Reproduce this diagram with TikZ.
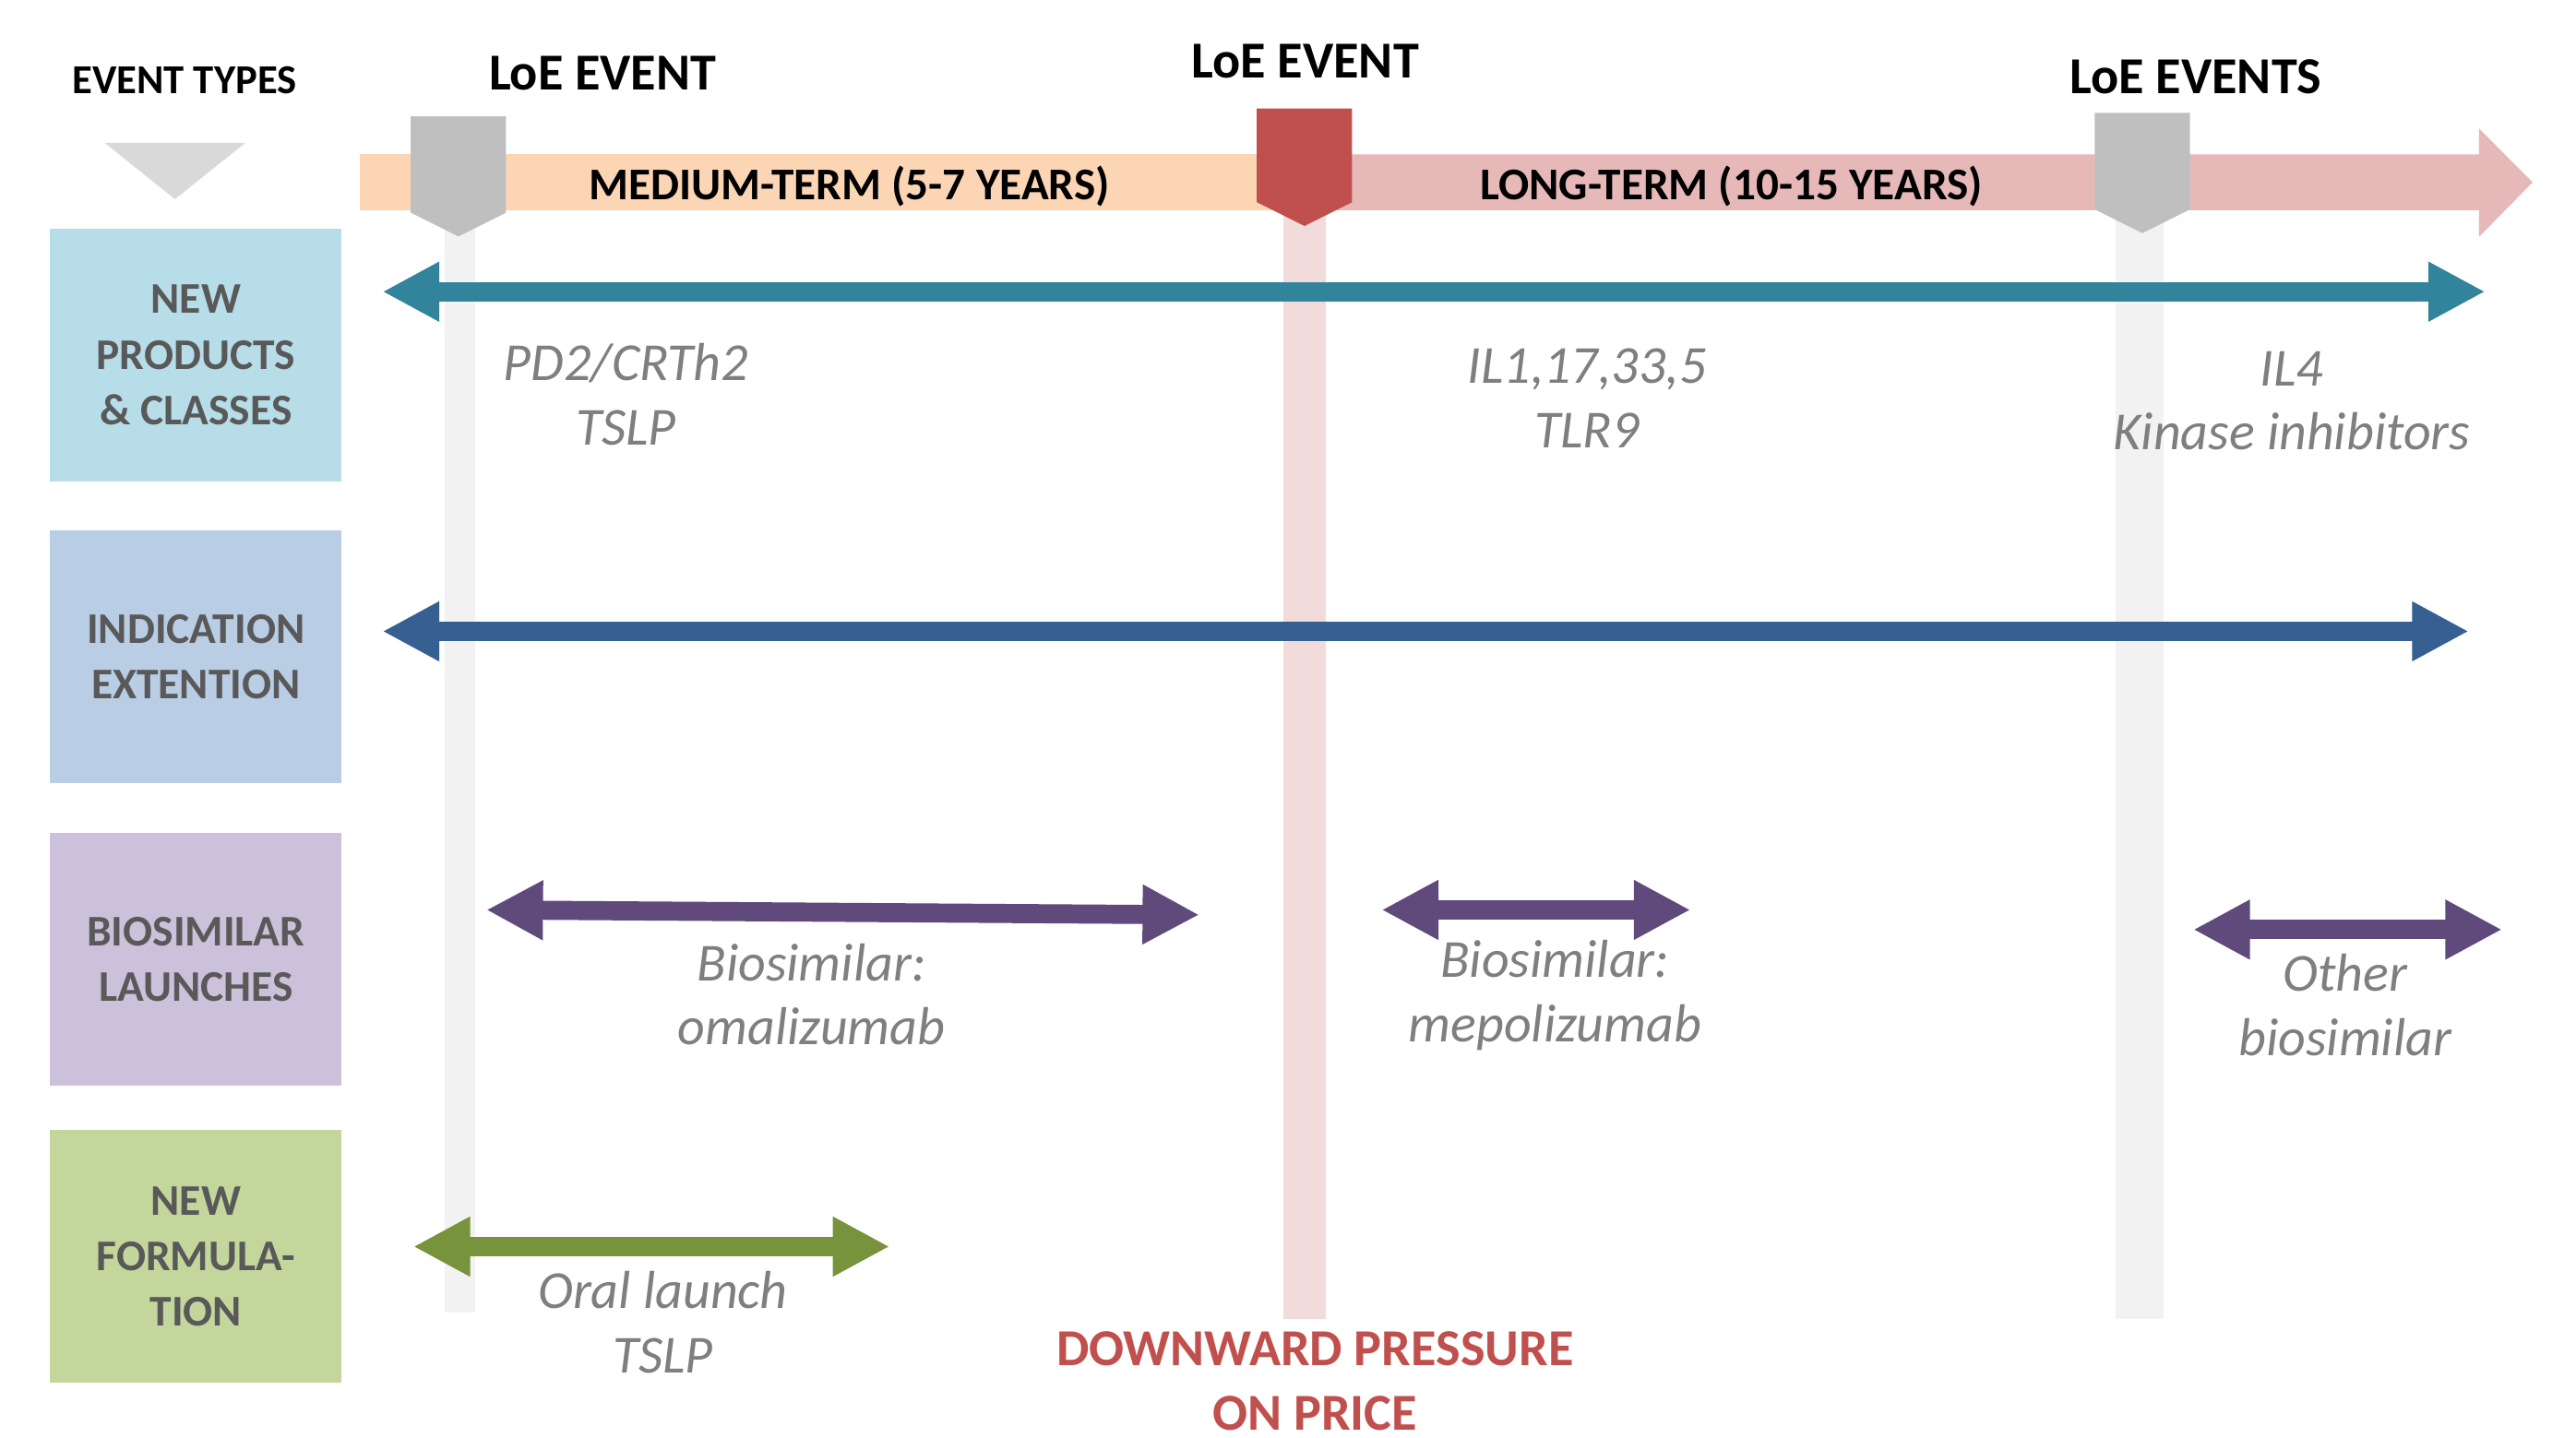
\documentclass[tikz,border=0pt]{standalone}
\usepackage{fontspec}
\setmainfont{Carlito}
\usetikzlibrary{positioning}
\usetikzlibrary{arrows.meta}

\definecolor{bargray}{HTML}{F2F2F2}
\definecolor{barpink}{HTML}{F2DCDB}
\definecolor{bandorange}{HTML}{FCD5B5}
\definecolor{bandpink}{HTML}{E6B9B8}
\definecolor{markgray}{HTML}{BFBFBF}
\definecolor{markred}{HTML}{C0504D}
\definecolor{trigray}{HTML}{D9D9D9}
\definecolor{boxaqua}{HTML}{B7DDE8}
\definecolor{boxblue}{HTML}{B9CDE5}
\definecolor{boxpurple}{HTML}{CCC1DA}
\definecolor{boxgreen}{HTML}{C3D69B}
\definecolor{boxtext}{HTML}{595959}
\definecolor{lblgray}{HTML}{7F7F7F}
\definecolor{spanteal}{HTML}{31849B}
\definecolor{spanblue}{HTML}{366092}
\definecolor{spanpurple}{HTML}{604A7B}
\definecolor{spangreen}{HTML}{77933C}

\tikzset{
  typebox/.style={minimum width=3.157cm, minimum height=2.735cm, inner sep=0pt,
    outer sep=0pt, align=center, text=boxtext,
    font=\bfseries\fontsize{13.5}{17.2}\selectfont},
  lbl/.style={align=center, text=lblgray, font=\itshape\fontsize{16.5}{19.8}\selectfont},
  loe/.style={anchor=base, inner sep=0pt, font=\bfseries\fontsize{16}{19}\selectfont},
  term/.style={anchor=base, inner sep=0pt, font=\bfseries\fontsize{14}{17}\selectfont},
  span/.style={line width=0.207cm,
    {Triangle[length=0.615cm,width=0.605cm]}-{Triangle[length=0.615cm,width=0.605cm]}}
}

% LoE marker: x centre, top, tip, colour
\newcommand{\loemarker}[4]{%
  \fill[#4] (#1-29,#2) -- (#1+29,#2) -- (#1+29,#3-14.5) -- (#1,#3)
    -- (#1-29,#3-14.5) -- cycle;}

\begin{document}
\begin{tikzpicture}[x=0.017806cm, y=-0.017806cm]
  \useasboundingbox (0,0) rectangle (1568,875);

  % guide bars
  \fill[bargray] (270.5,130) rectangle (289.5,799);
  \fill[barpink] (781,130) rectangle (807,803);
  \fill[bargray] (1288,130) rectangle (1317,803);

  % timeline
  \fill[bandorange] (219,94) rectangle (794,128);
  \fill[bandpink] (794,94) -- (1509,94) -- (1509,78.3) -- (1541.6,111)
    -- (1509,144.2) -- (1509,128) -- (794,128) -- cycle;

  % LoE markers
  \loemarker{279}{70.8}{144}{markgray}
  \loemarker{794}{66}{137.6}{markred}
  \loemarker{1304}{68.7}{142}{markgray}
  \fill[trigray] (63.8,87) -- (149.3,87) -- (106.5,121.3) -- cycle;

  % titles
  \node[loe, font=\bfseries\fontsize{12.7}{15}\selectfont] (types) at (112.3,57) {EVENT TYPES};
  \node[loe] (loe1) at (366.8,54.9) {LoE EVENT};
  \node[loe] (loe2) at (794.5,47.7) {LoE EVENT};
  \node[loe] (loe3) at (1336.5,57) {LoE EVENTS};
  \node[term] (mid) at (517,121.7) {MEDIUM-TERM (5-7 YEARS)};
  \node[term] (long) at (1053.8,121.7) {LONG-TERM (10-15 YEARS)};

  % event types
  \node[typebox, fill=boxaqua] (prod) at (119.25,216.25) {NEW\\PRODUCTS\\\& CLASSES};
  \node[typebox, fill=boxblue, below=0.534cm of prod] (ind) {INDICATION\\EXTENTION};
  \node[typebox, fill=boxpurple, below=0.545cm of ind] (bio) {BIOSIMILAR\\LAUNCHES};
  \node[typebox, fill=boxgreen, below=0.488cm of bio] (form) {NEW\\FORMULA-\\TION};

  % spans
  \coordinate (prodL) at (232.8,177.6);
  \coordinate (prodR) at (1512.7,177.6);
  \coordinate (indL) at (232.8,384.4);
  \coordinate (indR) at (1502.7,384.4);
  \coordinate (omaL) at (296,554);
  \coordinate (omaR) at (730,557);
  \coordinate (mepL) at (841,554);
  \coordinate (mepR) at (1029,554);
  \coordinate (othL) at (1335,566);
  \coordinate (othR) at (1523,566);
  \coordinate (oralL) at (251.6,759);
  \coordinate (oralR) at (541.5,759);
  \draw[span, spanteal] (prodL) -- (prodR);
  \draw[span, spanblue] (indL) -- (indR);
  \draw[span, spanpurple] (omaL) -- (omaR);
  \draw[span, spanpurple] (mepL) -- (mepR);
  \draw[span, spanpurple] (othL) -- (othR);
  \draw[span, spangreen] (oralL) -- (oralR);

  % labels
  \node[lbl] (pd2) at (381,240) {PD2/CRTh2\\TSLP};
  \node[lbl] (il1) at (966,242.5) {IL1,17,33,5\\TLR9};
  \node[lbl] (il4) at (1395,244) {IL4\\Kinase inhibitors};
  \node[lbl] (oma) at (494,605.5) {Biosimilar:\\omalizumab};
  \node[lbl] (mep) at (946.5,606) {Biosimilar:\\mepolizumab};
  \node[lbl] (oth) at (1427.5,612) {Other\\biosimilar};
  \node[lbl] (oral) at (403.5,805) {Oral launch\\TSLP};
  \node[align=center, inner sep=0pt, text=markred,
    font=\bfseries\fontsize{16}{19.8}\selectfont]
    (price) at (800.4,841) {DOWNWARD PRESSURE\\ON PRICE};
\end{tikzpicture}
\end{document}
